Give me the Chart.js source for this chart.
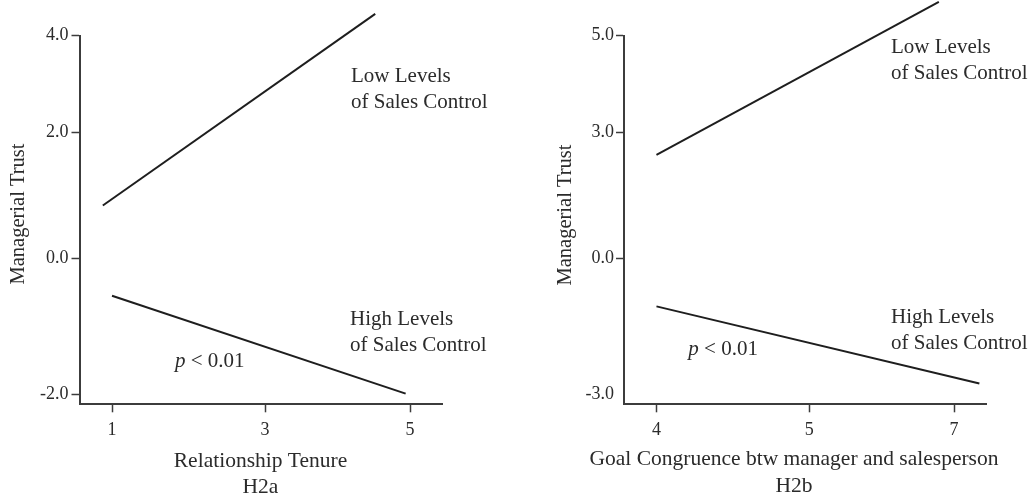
<!DOCTYPE html>
<html>
<head>
<meta charset="utf-8">
<script src="https://cdn.jsdelivr.net/npm/chart.js@4/dist/chart.umd.min.js"></script>
<style>
  html, body { margin: 0; padding: 0; background: #fff; overflow: hidden; }
  #wrap { position: relative; width: 1034px; height: 496px; }
  canvas { position: absolute; top: 0; }
  #cA { left: 0; }
  #cB { left: 520px; }
</style>
</head>
<body>
<div id="wrap">
  <canvas id="cA" width="520" height="496"></canvas>
  <canvas id="cB" width="514" height="496"></canvas>
</div>
<script>
// ---------- DATA ----------
// H2a : Relationship Tenure
const xTickValuesA = [1, 3, 5];
const yTickValuesA = [-2, 0, 2, 4];
const yTickLabelsA = ['-2.0', '0.0', '2.0', '4.0'];
const lowControlXA  = [0.88, 4.52];
const lowControlYA  = [0.84, 4.45];
const highControlXA = [1.0, 4.94];
const highControlYA = [-0.55, -1.99];

// H2b : Goal Congruence
const xTickValuesB = [4, 5, 7];
const yTickValuesB = [-3, 0, 3, 5];
const yTickLabelsB = ['-3.0', '0.0', '3.0', '5.0'];
const lowControlXB  = [4.0, 6.79];
const lowControlYB  = [2.47, 5.70];
const highControlXB = [4.0, 7.35];
const highControlYB = [-1.06, -2.76];

// ---------- AXIS GEOMETRY (the source axes are not evenly scaled) ----------
// where each tick sits along its axis, as a fraction of the axis length
const xTickFrac = [0.0895, 0.511, 0.910];
const yTickFrac = [0.0271, 0.396, 0.737, 1.0];

function toFrac(v, vals, fracs) {
  let i = 0;
  while (i < vals.length - 2 && v > vals[i + 1]) i++;
  return fracs[i] + (v - vals[i]) * (fracs[i + 1] - fracs[i]) / (vals[i + 1] - vals[i]);
}
function pts(xs, ys, xv, yv) {
  return xs.map((x, i) => ({ x: toFrac(x, xv, xTickFrac), y: toFrac(ys[i], yv, yTickFrac) }));
}

const SERIF = "'Liberation Serif', 'Times New Roman', serif";
const TEXT = '#2b2b2b';
const AXIS = '#3c3c3c';
const LINE = '#1e1e1e';

const annotationPlugin = {
  id: 'notes',
  afterDraw(chart, args, opts) {
    const ctx = chart.ctx;
    ctx.save();
    ctx.fillStyle = TEXT;
    ctx.textBaseline = 'alphabetic';
    ctx.textAlign = 'left';
    ctx.font = '21px ' + SERIF;
    opts.lines.forEach(l => ctx.fillText(l.text, l.x, l.y));
    // p < 0.01
    const p = opts.p;
    ctx.font = 'italic 21px ' + SERIF;
    ctx.fillText('p', p.x, p.y);
    const w = ctx.measureText('p').width;
    ctx.font = '21px ' + SERIF;
    ctx.fillText(' < 0.01', p.x + w, p.y);
    // x-axis title (two lines, centred as in the source)
    ctx.textAlign = 'center';
    ctx.font = '21.5px ' + SERIF;
    opts.xTitle.text.forEach((t, i) => ctx.fillText(t, opts.xTitle.cx, opts.xTitle.y[i]));
    // y-axis title, rotated
    ctx.save();
    ctx.translate(opts.yTitle.x, opts.yTitle.cy);
    ctx.rotate(-Math.PI / 2);
    ctx.textBaseline = 'middle';
    ctx.font = '20.5px ' + SERIF;
    ctx.fillText(opts.yTitle.text, 0, 0);
    ctx.restore();
    ctx.restore();
  }
};

function makeChart(id, cfg) {
  const ds = (data) => ({
    data, showLine: true, borderColor: LINE, borderWidth: 2,
    pointRadius: 0, clip: false, tension: 0, fill: false
  });
  return new Chart(document.getElementById(id), {
    type: 'line',
    data: {
      datasets: [
        ds(pts(cfg.lowX, cfg.lowY, cfg.xVals, cfg.yVals)),
        ds(pts(cfg.highX, cfg.highY, cfg.xVals, cfg.yVals))
      ]
    },
    options: {
      responsive: false,
      devicePixelRatio: 1,
      animation: false,
      events: [],
      layout: { padding: { top: 35.7, right: cfg.padRight, bottom: 0, left: 0 } },
      plugins: {
        legend: { display: false },
        tooltip: { enabled: false },
        notes: { lines: cfg.notes, p: cfg.p, xTitle: cfg.xTitle, yTitle: cfg.yTitle }
      },
      scales: {
        x: {
          type: 'linear', min: 0, max: 1,
          afterBuildTicks: s => { s.ticks = xTickFrac.map(v => ({ value: v })); },
          afterFit: s => { s.height = 496 - 404.3; },
          ticks: {
            autoSkip: false, maxRotation: 0, padding: 7,
            color: TEXT, font: { family: SERIF, size: 18 },
            callback: (v, i) => String(cfg.xVals[i])
          },
          grid: { display: true, drawOnChartArea: false, drawTicks: true, tickLength: 8, tickWidth: 1.5, tickColor: AXIS },
          border: { display: true, color: AXIS, width: 2 },
          title: { display: false }
        },
        y: {
          type: 'linear', min: 0, max: 1,
          afterBuildTicks: s => { s.ticks = yTickFrac.map(v => ({ value: v })); },
          afterFit: s => { s.width = cfg.yWidth; },
          ticks: {
            autoSkip: false, padding: cfg.yTickPad,
            color: TEXT, font: { family: SERIF, size: 18 },
            callback: (v, i) => cfg.yLabels[i]
          },
          grid: {
            display: true, drawOnChartArea: false, drawTicks: true, tickLength: 8, tickWidth: 1.5,
            tickColor: c => (cfg.hideBottomTick && c.index === 0) ? 'rgba(0,0,0,0)' : AXIS
          },
          border: { display: true, color: AXIS, width: 2 },
          title: { display: false }
        }
      }
    },
    plugins: [annotationPlugin]
  });
}

makeChart('cA', {
  xVals: xTickValuesA, yVals: yTickValuesA, yLabels: yTickLabelsA,
  lowX: lowControlXA, lowY: lowControlYA, highX: highControlXA, highY: highControlYA,
  xTitle: { text: ['Relationship Tenure', 'H2a'], cx: 260.5, y: [466.7, 493.3] },
  yTitle: { text: 'Managerial Trust', x: 18.6, cy: 214 },
  padRight: 520 - 442.7, yWidth: 79.5, yTickPad: 3, hideBottomTick: false,
  notes: [
    { text: 'Low Levels', x: 351, y: 82 },
    { text: 'of Sales Control', x: 351, y: 107.5 },
    { text: 'High Levels', x: 350, y: 325 },
    { text: 'of Sales Control', x: 350, y: 350.7 }
  ],
  p: { x: 175, y: 366.7 }
});

makeChart('cB', {
  xVals: xTickValuesB, yVals: yTickValuesB, yLabels: yTickLabelsB,
  lowX: lowControlXB, lowY: lowControlYB, highX: highControlXB, highY: highControlYB,
  xTitle: { text: ['Goal Congruence btw manager and salesperson', 'H2b'], cx: 274, y: [465, 491.7] },
  yTitle: { text: 'Managerial Trust', x: 45.3, cy: 215 },
  padRight: 514 - 466.7, yWidth: 104, yTickPad: 2, hideBottomTick: true,
  notes: [
    { text: 'Low Levels', x: 371, y: 53.3 },
    { text: 'of Sales Control', x: 371, y: 79 },
    { text: 'High Levels', x: 371, y: 323.3 },
    { text: 'of Sales Control', x: 371, y: 349.3 }
  ],
  p: { x: 168.3, y: 355 }
});
</script>
</body>
</html>
